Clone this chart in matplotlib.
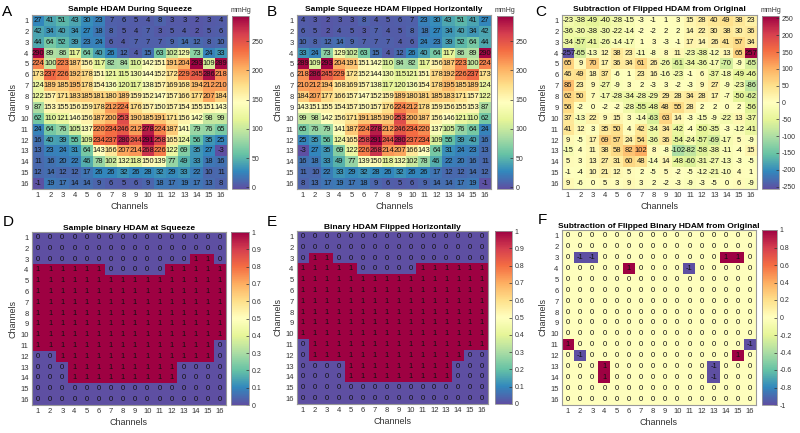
import numpy as np
import matplotlib
matplotlib.use("Agg")
import matplotlib.pyplot as plt

plt.rcParams['font.family'] = ['Liberation Sans', 'DejaVu Sans']
plt.rcParams['axes.unicode_minus'] = False

channels = [str(i) for i in range(1, 17)]

# A: sample HDAM during squeeze (mmHg)
hdam = [
    [27, 41, 51, 43, 30, 23, 7, 6, 5, 4, 8, 3, 3, 2, 3, 4],
    [42, 34, 40, 34, 27, 18, 8, 5, 4, 7, 3, 5, 4, 2, 5, 6],
    [44, 64, 52, 39, 23, 24, 6, 4, 7, 7, 7, 9, 14, 12, 8, 10],
    [290, 89, 86, 117, 64, 40, 26, 12, 4, 15, 63, 102, 129, 73, 24, 33],
    [224, 100, 223, 187, 156, 117, 82, 84, 110, 142, 151, 191, 204, 293, 109, 289],
    [173, 237, 226, 192, 178, 151, 121, 115, 130, 144, 152, 172, 229, 245, 286, 218],
    [124, 189, 185, 195, 178, 154, 136, 120, 117, 138, 157, 169, 168, 194, 212, 210],
    [122, 157, 171, 183, 185, 181, 180, 189, 159, 152, 147, 157, 166, 177, 207, 184],
    [87, 153, 155, 156, 159, 178, 212, 224, 176, 157, 150, 157, 154, 155, 151, 143],
    [62, 110, 121, 146, 156, 187, 200, 253, 190, 185, 191, 171, 156, 142, 98, 99],
    [24, 64, 76, 105, 137, 220, 234, 246, 212, 278, 224, 187, 141, 79, 76, 65],
    [16, 40, 39, 55, 109, 234, 237, 280, 244, 291, 258, 165, 124, 56, 35, 25],
    [13, 23, 24, 31, 64, 143, 166, 207, 214, 268, 226, 122, 69, 35, 27, -3],
    [11, 16, 20, 22, 46, 78, 102, 132, 118, 150, 139, 77, 49, 33, 18, 16],
    [12, 14, 12, 12, 17, 26, 26, 32, 26, 28, 32, 29, 33, 22, 10, 11],
    [-1, 19, 17, 14, 14, 9, 6, 5, 6, 9, 18, 17, 19, 17, 13, 8],
]

# B: flipped horizontally
hdam_flip = [
    [4, 3, 2, 3, 3, 8, 4, 5, 6, 7, 23, 30, 43, 51, 41, 27],
    [6, 5, 2, 4, 5, 3, 7, 4, 5, 8, 18, 27, 34, 40, 34, 42],
    [10, 8, 12, 14, 9, 7, 7, 7, 4, 6, 24, 23, 39, 52, 64, 44],
    [33, 24, 73, 129, 102, 63, 15, 4, 12, 26, 40, 64, 117, 86, 89, 290],
    [289, 109, 293, 204, 191, 151, 142, 110, 84, 82, 117, 156, 187, 223, 100, 224],
    [218, 286, 245, 229, 172, 152, 144, 130, 115, 121, 151, 178, 192, 226, 237, 173],
    [210, 212, 194, 168, 169, 157, 138, 117, 120, 136, 154, 178, 195, 185, 189, 124],
    [184, 207, 177, 166, 157, 147, 152, 159, 189, 180, 181, 185, 183, 171, 157, 122],
    [143, 151, 155, 154, 157, 150, 157, 176, 224, 212, 178, 159, 156, 155, 153, 87],
    [99, 98, 142, 156, 171, 191, 185, 190, 253, 200, 187, 156, 146, 121, 110, 62],
    [65, 76, 79, 141, 187, 224, 278, 212, 246, 234, 220, 137, 105, 76, 64, 24],
    [25, 35, 56, 124, 165, 258, 291, 244, 280, 237, 234, 109, 55, 39, 40, 16],
    [-3, 27, 35, 69, 122, 226, 268, 214, 207, 166, 143, 64, 31, 24, 23, 13],
    [16, 18, 33, 49, 77, 139, 150, 118, 132, 102, 78, 46, 22, 20, 16, 11],
    [11, 10, 22, 33, 29, 32, 28, 26, 32, 26, 26, 17, 12, 12, 14, 12],
    [8, 13, 17, 19, 17, 18, 9, 6, 5, 6, 9, 14, 14, 17, 19, -1],
]

# C: subtraction
hdam_diff = [
    [-23, -38, -49, -40, -28, -15, -3, -1, 1, 3, 15, 28, 40, 49, 38, 23],
    [-36, -30, -38, -30, -22, -14, -2, -2, 2, 2, 14, 22, 30, 38, 30, 36],
    [-34, -57, -41, -26, -14, -17, 1, 3, -3, -1, 17, 14, 26, 41, 57, 34],
    [-257, -65, -13, 12, 38, 23, -11, -8, 8, 11, -23, -38, -12, 13, 65, 257],
    [65, 9, 70, 17, 36, 34, 61, 26, -26, -61, -34, -36, -17, -70, -9, -65],
    [46, 49, 18, 37, -6, 1, 23, 16, -16, -23, -1, 6, -37, -18, -49, -46],
    [86, 23, 9, -27, -9, 3, 2, -3, 3, -2, -3, 9, 27, -9, -23, -86],
    [62, 50, 7, -17, -28, -34, -28, -29, 29, 28, 34, 28, 17, -7, -50, -62],
    [56, -2, 0, -2, -2, -28, -55, -48, 48, 55, 28, 2, 2, 0, 2, -56],
    [37, -13, 22, 9, 15, 3, -14, -63, 63, 14, -3, -15, -9, -22, 13, -37],
    [41, 12, 3, 35, 50, 4, 42, -34, 34, -42, -4, -50, -35, -3, -12, -41],
    [9, -5, 17, 69, 57, 24, 54, -36, 36, -54, -24, -57, -69, -17, 5, -9],
    [-15, 4, 11, 38, 58, 82, 102, 8, -8, -102, -82, -58, -38, -11, -4, 15],
    [5, 3, 13, 27, 31, 60, 48, -14, 14, -48, -60, -31, -27, -13, -3, -5],
    [-1, -4, 10, 21, 12, 5, 2, -5, 5, -2, -5, -12, -21, -10, 4, 1],
    [9, -6, 0, 5, 3, 9, 3, 2, -2, -3, -9, -3, -5, 0, 6, -9],
]

# D: binary HDAM
binary_rows = [
    "0000000000000000",
    "0000000000000000",
    "0000000000000110",
    "1111110000011111",
    "1111111111111111",
    "1111111111111111",
    "1111111111111111",
    "1111111111111111",
    "1111111111111111",
    "1111111111111111",
    "1111111111111110",
    "0011111111111110",
    "0001111111110000",
    "0001111111110000",
    "0000000000000000",
    "0000000000000000",
]

# E: binary flipped
binary_flip_rows = [
    "0000000000000000",
    "0000000000000000",
    "0110000000000000",
    "1111100000111111",
    "1111111111111111",
    "1111111111111111",
    "1111111111111111",
    "1111111111111111",
    "1111111111111111",
    "1111111111111111",
    "0111111111111111",
    "0111111111111100",
    "0000111111111000",
    "0000111111111000",
    "0000000000000000",
    "0000000000000000",
]

# F: binary subtraction
binary_diff = [
    [0] * 16,
    [0] * 16,
    [0, -1, -1, 0, 0, 0, 0, 0, 0, 0, 0, 0, 0, 1, 1, 0],
    [0, 0, 0, 0, 0, 1, 0, 0, 0, 0, -1, 0, 0, 0, 0, 0],
    [0] * 16,
    [0] * 16,
    [0] * 16,
    [0] * 16,
    [0] * 16,
    [0] * 16,
    [1, 0, 0, 0, 0, 0, 0, 0, 0, 0, 0, 0, 0, 0, 0, -1],
    [0, -1, 0, 0, 0, 0, 0, 0, 0, 0, 0, 0, 0, 0, 1, 0],
    [0, 0, 0, 1, 0, 0, 0, 0, 0, 0, 0, 0, -1, 0, 0, 0],
    [0, 0, 0, 1, 0, 0, 0, 0, 0, 0, 0, 0, -1, 0, 0, 0],
    [0] * 16,
    [0] * 16,
]

binary = [[int(c) for c in r] for r in binary_rows]
binary_flip = [[int(c) for c in r] for r in binary_flip_rows]

mmhg_ticks = [0, 50, 100, 150, 200, 250]
diff_ticks = [-250, -200, -150, -100, -50, 0, 50, 100, 150, 200, 250]
bin_ticks = [0, 0.1, 0.2, 0.3, 0.4, 0.5, 0.6, 0.7, 0.8, 0.9, 1]
bin_diff_ticks = [-1, -0.8, -0.6, -0.4, -0.2, 0, 0.2, 0.4, 0.6, 0.8, 1]

W, H = 800, 433
fig = plt.figure(figsize=(W / 100, H / 100), dpi=100)


def rect(l, t, r, b):
    return [l / W, 1 - b / H, (r - l) / W, (b - t) / H]


def heat(box, cbox, data, vmin, vmax, title, letter, lpos, cticks, unit=None, tpad=3):
    ax = fig.add_axes(rect(*box))
    M = np.array(data)
    im = ax.imshow(M, cmap='Spectral_r', vmin=vmin, vmax=vmax, aspect='auto',
                   interpolation='nearest')
    for i in range(16):
        for j in range(16):
            ax.text(j, i, str(M[i, j]), ha='center', va='center', fontsize=5.5,
                    color='#111111')
    ax.set_xticks(range(16))
    ax.set_xticklabels(channels)
    ax.set_yticks(range(16))
    ax.set_yticklabels(channels)
    ax.tick_params(length=0, labelsize=5.5, pad=2.5, colors='#333333')
    for s in ax.spines.values():
        s.set_color('#999999')
        s.set_linewidth(0.8)
    ax.set_xlabel('Channels', fontsize=6.5, labelpad=2, color='#333333')
    ax.set_ylabel('Channels', fontsize=6.5, labelpad=2, color='#333333')
    ax.set_title(title, fontsize=6, fontweight='bold', pad=tpad)
    fig.text(lpos[0] / W, 1 - lpos[1] / H, letter, fontsize=11, ha='left', va='center')
    cax = fig.add_axes(rect(*cbox))
    cb = fig.colorbar(im, cax=cax, ticks=cticks)
    cb.set_ticklabels(['%g' % t for t in cticks])
    cb.outline.set_edgecolor('#999999')
    cb.outline.set_linewidth(0.6)
    cax.tick_params(labelsize=5, length=2, width=0.5, direction='in', pad=2,
                    colors='#333333')
    if unit:
        cax.set_title(unit, fontsize=5, pad=3, color='#333333')
    return ax


heat((32, 15, 227, 189), (232, 16, 249, 189), hdam, -3, 293,
     'Sample HDAM During Squeeze', 'A', (2, 12), mmhg_ticks, 'mmHg')
heat((297, 15, 491, 189), (497, 16, 513, 189), hdam_flip, -3, 293,
     'Sample Squeeze HDAM Flipped Horizontally', 'B', (267, 12), mmhg_ticks, 'mmHg')
heat((562, 15, 757, 189), (762, 16, 779, 189), hdam_diff, -257, 257,
     'Subtraction of Flipped HDAM from Original', 'C', (535, 12), diff_ticks, 'mmHg')

heat((32, 232, 226, 405), (231, 232, 249, 405), binary, 0, 1,
     'Sample binary HDAM at Squeeze', 'D', (3, 222), bin_ticks, tpad=1.5)
heat((297, 231, 488, 404), (495, 231, 512, 404), binary_flip, 0, 1,
     'Binary HDAM Flipped Horizontally', 'E', (267, 222), bin_ticks, tpad=1.5)
heat((562, 230, 756, 405), (762, 230, 777, 405), binary_diff, -1, 1,
     'Subtraction of Flipped Binary HDAM from Original', 'F', (538, 220),
     bin_diff_ticks, tpad=1.5)

fig.savefig('out.png', dpi=100)
